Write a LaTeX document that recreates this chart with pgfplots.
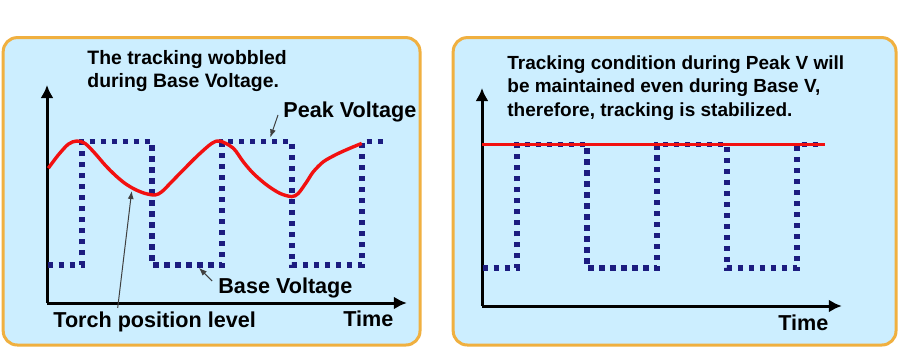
\documentclass[border=0pt]{standalone}
\usepackage{pgfplots}
\pgfplotsset{compat=1.18}
\usepackage{fontspec}
\setmainfont{Liberation Sans}
\usetikzlibrary{arrows.meta}

\definecolor{panelfill}{HTML}{CCEEFF}
\definecolor{panelborder}{HTML}{F0B040}
\definecolor{pulse}{HTML}{1C1C80}
\definecolor{torch}{HTML}{F21010}

% pulsed arc voltage (time, level)
\pgfplotstableread{
t     v
0.01  0.95
0.5   0.95
0.5   4.03
1.5   4.03
1.5   0.95
2.5   0.95
2.5   4.03
3.5   4.03
3.5   0.95
4.5   0.95
4.5   4.03
4.87  4.03
}\pulsewave

% torch position with conventional control
\pgfplotstableread{
t      v
0.019  3.37
0.161  3.70
0.304  3.97
0.424  4.05
0.543  3.99
0.686  3.74
0.829  3.45
0.971  3.20
1.114  2.99
1.257  2.84
1.400  2.74
1.543  2.70
1.639  2.78
1.781  3.03
1.971  3.37
2.161  3.70
2.353  3.99
2.471  4.05
2.661  3.87
2.804  3.53
2.947  3.24
3.139  2.95
3.329  2.74
3.496  2.66
3.590  2.74
3.710  3.03
3.804  3.28
3.947  3.53
4.139  3.72
4.329  3.87
4.496  3.99
}\torchwobble

% torch position with stabilised control
\pgfplotstableread{
t     v
0.0   4.04
4.9   4.04
}\torchflat

\pgfplotsset{
  panel/.style={
    scale only axis, x=35pt, y=20pt,
    xmin=0, xmax=5.14, ymin=0, ymax=5.45,
    axis lines=left,
    axis line style={line width=1.5pt, -{Latex[length=6.5pt,width=6.5pt]}},
    xtick=\empty, ytick=\empty,
    clip=false, anchor=south west,
  },
  pulseline/.style={pulse, line width=2.6pt, dash pattern=on 2.6pt off 2.9pt},
  torchline/.style={torch, line width=1.7pt},
}

\begin{document}
\begin{tikzpicture}
\path[fill=white, use as bounding box] (0pt,0pt) rectangle (450pt,-176.5pt);

% the two panels
\draw[panelborder, fill=panelfill, line width=1.5pt, rounded corners=7pt]
  (1.6pt,-18.8pt) rectangle (210pt,-172.5pt);
\draw[panelborder, fill=panelfill, line width=1.5pt, rounded corners=7pt]
  (226.6pt,-18.8pt) rectangle (448pt,-172.5pt);

% conventional control
\begin{axis}[panel, at={(23.5pt,-151.5pt)}]
  \addplot[pulseline] table[x=t, y=v] {\pulsewave};
  \addplot[torchline, smooth, tension=0.5] table[x=t, y=v] {\torchwobble};
  \draw[black!75, line width=0.5pt, -{Latex[length=4pt,width=3pt]}]
    (axis cs:3.30,4.70) -- (axis cs:3.19,4.14);
  \draw[black!75, line width=0.5pt, -{Latex[length=4pt,width=3pt]}]
    (axis cs:2.36,0.55) -- (axis cs:2.17,0.88);
  \draw[black!75, line width=0.5pt, -{Latex[length=4pt,width=3pt]}]
    (axis cs:1.01,-0.12) -- (axis cs:1.21,2.80);
\end{axis}

% stabilised control
\begin{axis}[panel, at={(241pt,-153pt)}]
  \addplot[pulseline] table[x=t, y=v] {\pulsewave};
  \addplot[torchline] table[x=t, y=v] {\torchflat};
\end{axis}

\begin{scope}[every node/.style={inner sep=0pt, text=black}]
  \node[anchor=base west, font=\fontsize{9.7}{11}\bfseries] at (43.5pt,-32.5pt) {The tracking wobbled};
  \node[anchor=base west, font=\fontsize{9.7}{11}\bfseries] at (43.5pt,-44pt) {during Base Voltage.};
  \node[anchor=base west, font=\fontsize{10.8}{12}\bfseries] at (141.5pt,-59pt) {Peak Voltage};
  \node[anchor=base west, font=\fontsize{10.8}{12}\bfseries] at (109pt,-146.5pt) {Base Voltage};
  \node[anchor=base west, font=\fontsize{10.8}{12}\bfseries] at (26.5pt,-163.5pt) {Torch position level};
  \node[anchor=base west, font=\fontsize{10.8}{12}\bfseries] at (171.5pt,-163pt) {Time};

  \node[anchor=base west, font=\fontsize{9.5}{11}\bfseries] at (253.5pt,-35pt) {Tracking condition during Peak V will};
  \node[anchor=base west, font=\fontsize{9.5}{11}\bfseries] at (253.5pt,-46.5pt) {be maintained even during Base V,};
  \node[anchor=base west, font=\fontsize{9.5}{11}\bfseries] at (253.5pt,-58.5pt) {therefore, tracking is stabilized.};
  \node[anchor=base west, font=\fontsize{10.8}{12}\bfseries] at (389pt,-165pt) {Time};
\end{scope}
\end{tikzpicture}
\end{document}
